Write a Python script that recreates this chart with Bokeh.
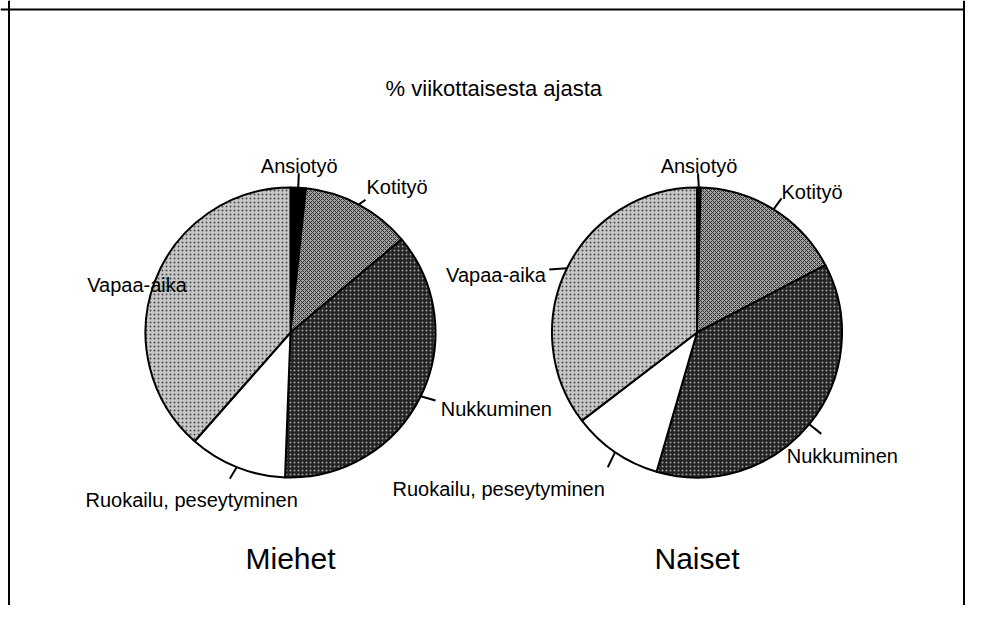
import numpy as np
from bokeh.plotting import figure
from bokeh.models import Range1d, ColumnDataSource, Span
from bokeh.embed import file_html
from bokeh.resources import INLINE
from bokeh.core.properties import value

# ---------------- data ----------------
categories = ["Ansiotyö", "Kotityö", "Nukkuminen", "Ruokailu, peseytyminen", "Vapaa-aika"]
miehet = [1.7, 12.2, 36.7, 10.9, 38.5]   # % of weekly time, men
naiset = [0.4, 16.9, 37.2, 10.1, 35.4]   # % of weekly time, women
groups = ["Miehet", "Naiset"]
title_text = "% viikottaisesta ajasta"

# ---------------- styling / layout ----------------
FONT = "Liberation Sans"
fills = ["#000000", "#a2a2a2", "#232323", "#ffffff", "#c8c8c8"]
hatch_patterns = [" ", "x", ".", " ", "."]
hatch_colors = ["#000000", "#303030", "#a0a0a0", "#000000", "#4a4a4a"]

centers = [(290.0, 332.0), (696.5, 332.0)]    # screen coords of pie centres
R = 145.0
# outer ends of leader lines (screen coords); None = no leader
leader_end = [
    [(298.3, 172.7), (365.0, 199.3), (435.0, 400.0), (229.3, 478.3), None],
    [(697.5, 172.7), (781.0, 197.9), (820.8, 433.4), (607.3, 466.8), (548.7, 269.0)],
]
# label anchors (screen x, baseline y, align)
label_pos = [
    [(298.7, 165.0, "center"), (366.0, 186.7, "left"), (440.3, 408.6, "left"),
     (85.0, 499.5, "left"), (86.7, 284.4, "left")],
    [(698.5, 165.8, "center"), (781.0, 191.0, "left"), (786.3, 455.8, "left"),
     (392.0, 488.5, "left"), (545.3, 274.3, "right")],
]

W, H = 965, 605
p = figure(width=W, height=H, output_backend="svg", toolbar_location=None,
           x_range=Range1d(0, W), y_range=Range1d(-H, 0),
           x_axis_type=None, y_axis_type=None, min_border=0,
           background_fill_color="white", border_fill_color="white")
p.grid.visible = False
p.outline_line_color = None

# frame (left, top, right)
p.add_layout(Span(location=8.5, dimension="height", line_color="black", line_width=2))
p.add_layout(Span(location=963.5, dimension="height", line_color="black", line_width=2))
p.add_layout(Span(location=-9, dimension="width", line_color="black", line_width=2))

for gi, vals in enumerate([miehet, naiset]):
    cx, cy = centers[gi]
    vals = np.array(vals, dtype=float)
    frac = vals / vals.sum()
    cum = np.concatenate([[0.0], np.cumsum(frac)])
    start = np.pi / 2 - 2 * np.pi * cum[:-1]
    end = np.pi / 2 - 2 * np.pi * cum[1:]
    src = ColumnDataSource(dict(
        x=[cx] * len(vals), y=[-cy] * len(vals), start=start, end=end,
        fill=fills, hatch=hatch_patterns, hcol=hatch_colors, cat=categories))
    p.wedge(x="x", y="y", radius=R, start_angle="start", end_angle="end",
            direction="clock", source=src, fill_color="fill",
            hatch_pattern="hatch", hatch_color="hcol", hatch_scale=4,
            hatch_weight=1, line_color="black", line_width=2)

    # leader lines from slice mid-angles on the rim to the label
    mid = (start + end) / 2
    x0, y0, x1, y1 = [], [], [], []
    for k, e in enumerate(leader_end[gi]):
        if e is None:
            continue
        x0.append(cx + R * np.cos(mid[k]))
        y0.append(-cy + R * np.sin(mid[k]))
        x1.append(e[0])
        y1.append(-e[1])
    p.segment(x0=x0, y0=y0, x1=x1, y1=y1, line_color="black", line_width=2)

    # slice labels
    lp = label_pos[gi]
    lsrc = ColumnDataSource(dict(
        x=[a[0] for a in lp], y=[-a[1] for a in lp],
        align=[a[2] for a in lp], text=categories))
    p.text(x="x", y="y", text="text", source=lsrc, text_align="align",
           text_baseline="alphabetic", text_font=value(FONT),
           text_font_size="20px", text_color="black")

# group names under the pies
gsrc = ColumnDataSource(dict(x=[c[0] for c in centers], y=[-558.3, -558.3], text=groups))
p.text(x="x", y="y", text="text", source=gsrc, text_align="center",
       text_baseline="alphabetic", text_font=value(FONT),
       text_font_size="30px", text_color="black")

# title
p.text(x=[493.3], y=[-88.3], text=[title_text], text_align="center",
       text_baseline="alphabetic", text_font=value(FONT),
       text_font_size="22px", text_color="black")

open("out.html", "w").write(file_html(p, INLINE))
